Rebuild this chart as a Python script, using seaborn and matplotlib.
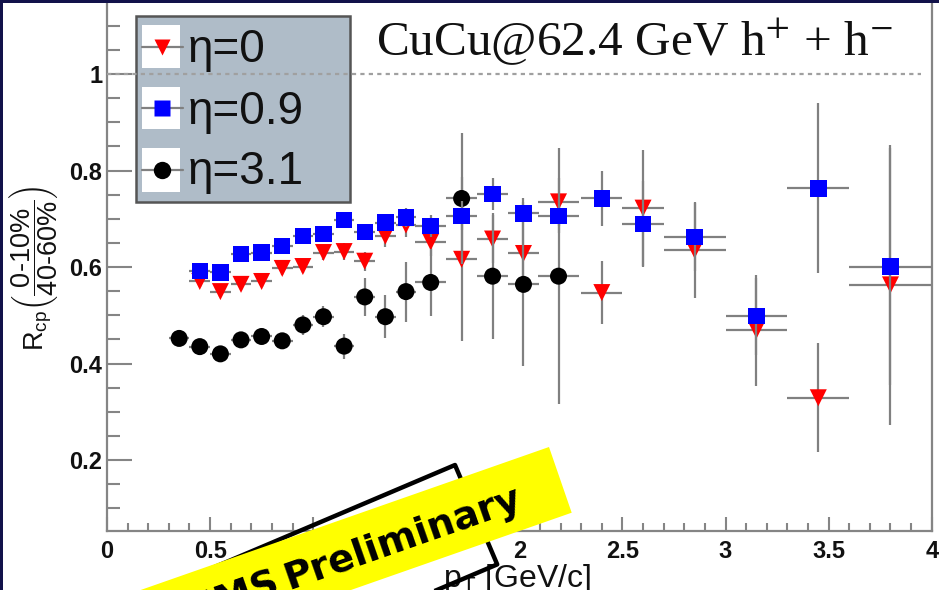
import matplotlib
matplotlib.use("Agg")
import matplotlib.pyplot as plt
from matplotlib.patches import Rectangle, Polygon
from matplotlib.lines import Line2D
import numpy as np
import pandas as pd
import seaborn as sns

# ---------------- data: R_cp(0-10% / 40-60%) vs pT, CuCu 62.4 GeV ----------------
pt_eta0 = [0.45, 0.55, 0.65, 0.75, 0.85, 0.95, 1.05, 1.15, 1.25, 1.35, 1.45,
           1.57, 1.72, 1.87, 2.02, 2.19, 2.4, 2.6, 2.85, 3.15, 3.45, 3.8]
rcp_eta0 = [0.570, 0.549, 0.564, 0.570, 0.597, 0.601, 0.630, 0.632, 0.612, 0.664, 0.687,
            0.652, 0.616, 0.658, 0.628, 0.735, 0.547, 0.722, 0.635, 0.469, 0.329, 0.563]
err_eta0 = [0.012, 0.012, 0.012, 0.012, 0.013, 0.014, 0.015, 0.017, 0.020, 0.022, 0.025,
            0.030, 0.170, 0.050, 0.050, 0.050, 0.065, 0.120, 0.100, 0.115, 0.113, 0.290]
xerr_eta0 = [0.05] * 11 + [0.075] * 4 + [0.1] * 3 + [0.15] * 3 + [0.2]

pt_eta09 = [0.45, 0.55, 0.65, 0.75, 0.85, 0.95, 1.05, 1.15, 1.25, 1.35, 1.45,
            1.57, 1.72, 1.87, 2.02, 2.19, 2.4, 2.6, 2.85, 3.15, 3.45, 3.8]
rcp_eta09 = [0.592, 0.589, 0.627, 0.630, 0.644, 0.664, 0.668, 0.697, 0.673, 0.692, 0.703,
             0.685, 0.706, 0.751, 0.711, 0.706, 0.742, 0.689, 0.662, 0.498, 0.763, 0.601]
err_eta09 = [0.010, 0.010, 0.010, 0.010, 0.011, 0.012, 0.013, 0.015, 0.016, 0.018, 0.020,
             0.022, 0.030, 0.033, 0.033, 0.035, 0.056, 0.090, 0.070, 0.080, 0.176, 0.245]
xerr_eta09 = [0.05] * 11 + [0.075] * 4 + [0.1] * 3 + [0.15] * 3 + [0.2]

pt_eta31 = [0.35, 0.45, 0.55, 0.65, 0.75, 0.85, 0.95, 1.05, 1.15, 1.25, 1.35, 1.45,
            1.57, 1.72, 1.87, 2.02, 2.19]
rcp_eta31 = [0.452, 0.435, 0.420, 0.449, 0.456, 0.447, 0.480, 0.497, 0.436, 0.538, 0.497, 0.549,
             0.568, 0.742, 0.581, 0.564, 0.581]
err_eta31 = [0.008, 0.008, 0.008, 0.009, 0.010, 0.012, 0.020, 0.022, 0.026, 0.040, 0.045, 0.062,
             0.070, 0.135, 0.130, 0.170, 0.265]
xerr_eta31 = [0.05] * 12 + [0.075] * 4 + [0.1]

legend_labels = ["\u03b7=0", "\u03b7=0.9", "\u03b7=3.1"]
x_ticks = [0, 0.5, 1, 1.5, 2, 2.5, 3, 3.5, 4]
x_ticklabels = ["0", "0.5", "1", "1.5", "2", "2.5", "3", "3.5", "4"]
y_ticks = [0.2, 0.4, 0.6, 0.8, 1.0]
y_ticklabels = ["0.2", "0.4", "0.6", "0.8", "1"]

# ---------------- style ----------------
sns.set_theme(style="white")
plt.rcParams["font.family"] = ["Liberation Sans", "DejaVu Sans"]
plt.rcParams["mathtext.fontset"] = "custom"
plt.rcParams["mathtext.rm"] = "Liberation Sans"
plt.rcParams["mathtext.it"] = "Liberation Sans:italic"
plt.rcParams["mathtext.bf"] = "Liberation Sans:bold"
plt.rcParams["mathtext.sf"] = "Liberation Sans"

W, H = 939, 590
fig = plt.figure(figsize=(W / 100, H / 100), dpi=100)
fig.patch.set_facecolor("white")


def fx(px):
    return px / W


def fy(py):
    return 1 - py / H


AX_L, AX_R, AX_B, AX_T = 107, 931.7, 530.7, -2
ax = fig.add_axes([fx(AX_L), fy(AX_B), (AX_R - AX_L) / W, (AX_B - AX_T) / H])
ax.set_facecolor("white")
ax.set_xlim(0, 4)
ax.set_ylim(0.0535, 1.1575)

AXIS_GRAY = "#858585"
ERR_GRAY = "#808080"

series = [
    (pt_eta0, rcp_eta0, xerr_eta0, err_eta0, "#ff0000", "v", 150, 2),
    (pt_eta31, rcp_eta31, xerr_eta31, err_eta31, "#000000", "o", 150, 3),
    (pt_eta09, rcp_eta09, xerr_eta09, err_eta09, "#0000ff", "s", 140, 4),
]
for x, y, xe, ye, col, mk, size, z in series:
    df = pd.DataFrame({"pt": x, "rcp": y})
    ax.errorbar(df["pt"], df["rcp"], xerr=xe, yerr=ye, fmt="none",
                ecolor=ERR_GRAY, elinewidth=1.6, capsize=0, zorder=z)
    sns.scatterplot(data=df, x="pt", y="rcp", marker=mk, color=col, s=size,
                    edgecolor="none", linewidth=0, legend=False, ax=ax, zorder=z + 0.5)

# reference line at unity
ax.hlines(1.0, 0, 3.95, colors="#a0a0a0", linewidth=1.6,
          linestyles=(0, (1.9, 1.9)), zorder=8)

ax.set_xlabel("")
ax.set_ylabel("")
ax.set_xticks(x_ticks)
ax.set_xticklabels(x_ticklabels)
ax.set_xticks(np.arange(0, 4.001, 0.1), minor=True)
ax.set_yticks(y_ticks)
ax.set_yticklabels(y_ticklabels)
ax.set_yticks(np.arange(0.1, 1.151, 0.05), minor=True)

ax.tick_params(axis="both", which="both", direction="in", color=AXIS_GRAY, width=1.5,
               labelcolor="#111111", bottom=True, left=True, top=False, right=False)
ax.tick_params(axis="y", which="major", length=18, pad=3.5)
ax.tick_params(axis="y", which="minor", length=9)
ax.tick_params(axis="x", which="major", length=10, pad=7)
ax.tick_params(axis="x", which="minor", length=5.5)
for lab in ax.get_xticklabels() + ax.get_yticklabels():
    lab.set_fontsize(17)
    lab.set_fontweight("bold")

for side in ["left", "bottom", "right"]:
    ax.spines[side].set_color(AXIS_GRAY)
    ax.spines[side].set_linewidth(1.6)
ax.spines["top"].set_visible(False)

# ---------------- legend box ----------------
tf = fig.transFigure
ax.add_patch(Rectangle((fx(135.7), fy(202.3)), (350 - 135.7) / W, (202.3 - 16) / H,
                       transform=tf, facecolor="#afbcc8", edgecolor="#555555",
                       linewidth=1.8, zorder=6, clip_on=False))
rows = [(25, 68, 46.5, 61.7, "#ff0000", "v", 12),
        (87, 129.3, 108.3, 124, "#0000ff", "s", 11.5),
        (148.3, 191.7, 170, 184, "#000000", "o", 12.5)]
for (top, bot, yc, base, col, mk, ms), lab in zip(rows, legend_labels):
    ax.add_patch(Rectangle((fx(141.7), fy(bot)), (180 - 141.7) / W, (bot - top) / H,
                           transform=tf, facecolor="white", edgecolor="none",
                           zorder=6.2, clip_on=False))
    ax.add_line(Line2D([fx(141.7), fx(182.7)], [fy(yc), fy(yc)], transform=tf,
                       color=ERR_GRAY, linewidth=1.6, zorder=6.4, clip_on=False))
    ax.add_line(Line2D([fx(161.5)], [fy(yc)], transform=tf, marker=mk, markersize=ms,
                       markerfacecolor=col, markeredgecolor="none", linestyle="none",
                       zorder=6.6, clip_on=False))
    ax.text(fx(188), fy(base), lab, transform=tf, fontsize=33, va="baseline",
            ha="left", color="#111111", zorder=6.8, clip_on=False)

# ---------------- title and axis labels ----------------
fig.text(fx(376), fy(55), r"CuCu@62.4 GeV h$^{+}$ + h$^{-}$",
         family="Liberation Serif", math_fontfamily="stix", fontsize=35.5,
         va="baseline", ha="left", color="#111111")
fig.text(fx(33), fy(268),
         r"$\mathrm{R_{cp}}\left(\dfrac{\text{0-10\%}}{\text{40-60\%}}\right)$",
         rotation=90, ha="center", va="center", fontsize=19.5, color="#111111")
fig.text(fx(443), fy(587), r"$\mathrm{p_{T}}$ [GeV/c]", fontsize=23,
         va="baseline", ha="left", color="#111111", zorder=3)

# ---------------- preliminary stamp ----------------
def poly_px(points, **kw):
    pts = [(fx(px), fy(py)) for px, py in points]
    return Polygon(pts, closed=True, transform=tf, **kw)


a2 = np.deg2rad(23.0)
tr = np.array([455.0, 465.0])
down = np.array([np.sin(a2), np.cos(a2)])
left = np.array([-np.cos(a2), np.sin(a2)])
br = tr + 108 * down
frame = [tr + 600 * left, tr, br, br + 600 * left]
fig.add_artist(poly_px(frame, facecolor="none", edgecolor="black", linewidth=3.2,
                       joinstyle="round", zorder=4))

a1 = np.deg2rad(19.3)
rt = np.array([549.0, 447.0])
rb = np.array([571.7, 512.7])
back = np.array([-np.cos(a1), np.sin(a1)])
band = [rt + 700 * back, rt, rb, rb + 700 * back]
fig.add_artist(poly_px(band, facecolor="#ffff00", edgecolor="none", zorder=5))
stamp = dict(rotation=19.3, rotation_mode="anchor", va="baseline", fontsize=27.5,
             fontweight="bold", family="DejaVu Sans", color="black", zorder=6)
fig.text(fx(523.7), fy(507), "Preliminary", ha="right", **stamp)
fig.text(fx(282), fy(591), "BRAHMS", ha="right", **stamp)

# thin dark frame on the top and left edges
fig.add_artist(Rectangle((0, 0), fx(2.5), 1, transform=tf, facecolor="#12124a",
                         edgecolor="none", zorder=10))
fig.add_artist(Rectangle((0, fy(2.5)), 1, 2.5 / H, transform=tf, facecolor="#12124a",
                         edgecolor="none", zorder=10))

fig.savefig("out.png", dpi=100)
